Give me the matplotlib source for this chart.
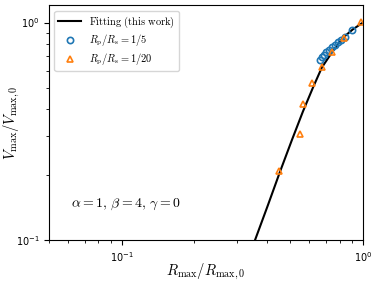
import matplotlib
matplotlib.use("Agg")
import matplotlib.pyplot as plt
from matplotlib.ticker import NullFormatter

plt.rcParams['mathtext.fontset'] = 'cm'

# fitted curve
fit_r = [0.357, 0.404, 0.453, 0.508, 0.564, 0.621, 0.676, 0.744, 0.826, 0.909, 1.0]
fit_v = [0.100, 0.145, 0.206, 0.289, 0.390, 0.503, 0.622, 0.729, 0.851, 0.931, 1.0]

# Rp/Rs = 1/5
r_5 = [0.663, 0.676, 0.689, 0.706, 0.723, 0.745, 0.766, 0.788, 0.811, 0.842, 0.900]
v_5 = [0.670, 0.692, 0.710, 0.729, 0.749, 0.769, 0.790, 0.811, 0.829, 0.860, 0.921]

# Rp/Rs = 1/20
r_20 = [0.450, 0.548, 0.563, 0.613, 0.679, 0.747, 0.838, 0.986]
v_20 = [0.208, 0.308, 0.420, 0.525, 0.625, 0.733, 0.846, 1.01]

fig = plt.figure(figsize=(3.78, 2.81), dpi=100)
ax = fig.add_axes([0.1304, 0.1459, 0.8296, 0.835])

ax.plot(fit_r, fit_v, color='black', lw=1.5, label=r'$\mathrm{Fitting\ (this\ work)}$')
ax.plot(r_5, v_5, 'o', mfc='none', mec='#1f77b4', ms=4.5, mew=1.2,
        label=r'$R_{\rm p}/R_{\rm s}=1/5$')
ax.plot(r_20, v_20, '^', mfc='none', mec='#ff7f0e', ms=4.5, mew=1.2,
        label=r'$R_{\rm p}/R_{\rm s}=1/20$')

ax.set_xscale('log')
ax.set_yscale('log')
ax.set_xlim(0.05, 1.0)
ax.set_ylim(0.1, 1.2)
ax.xaxis.set_minor_formatter(NullFormatter())
ax.yaxis.set_minor_formatter(NullFormatter())
ax.tick_params(labelsize=7)

ax.set_xlabel(r'$R_{\rm max}/R_{\rm max,0}$', fontsize=10.5)
ax.set_ylabel(r'$V_{\rm max}/V_{\rm max,0}$', fontsize=10.5)
ax.xaxis.set_label_coords(0.5, -0.094)
ax.yaxis.set_label_coords(-0.087, 0.5)

ax.text(0.07, 0.14, r'$\alpha=1,\,\beta=4,\,\gamma=0$', transform=ax.transAxes, fontsize=10)
ax.legend(loc='upper left', fontsize=7.5, handlelength=2.2, labelspacing=0.3, borderpad=0.35)

fig.savefig('out.png', dpi=100)
